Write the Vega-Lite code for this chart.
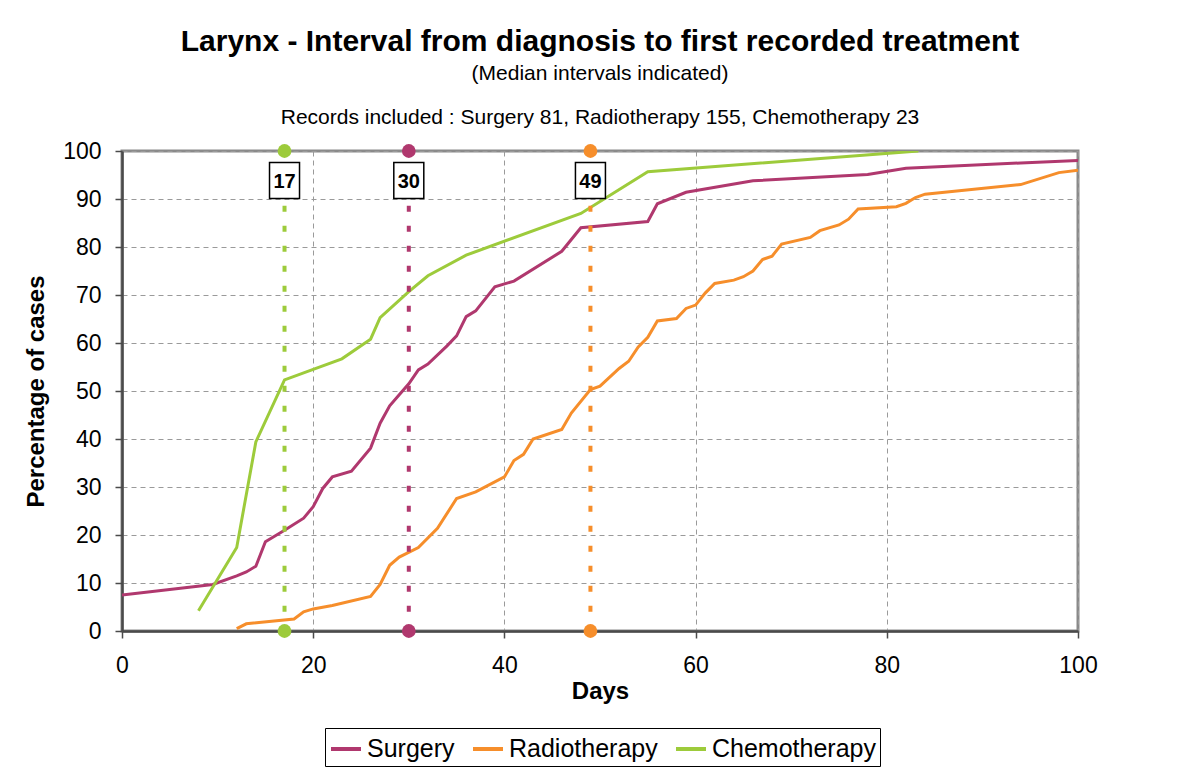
{
  "$schema": "https://vega.github.io/schema/vega-lite/v6.json",
  "width": 956,
  "height": 480,
  "autosize": {"type": "none"},
  "padding": {"left": 122, "top": 151, "right": 102, "bottom": 143},
  "background": "white",
  "title": {
    "text": "Larynx - Interval from diagnosis to first recorded treatment",
    "subtitle": ["(Median intervals indicated)", "Records included : Surgery 81, Radiotherapy 155, Chemotherapy 23"],
    "anchor": "middle",
    "font": "Liberation Sans",
    "fontSize": 30,
    "fontWeight": "bold",
    "color": "black",
    "subtitleFont": "Liberation Sans",
    "subtitleFontSize": 21,
    "subtitleColor": "black",
    "subtitleLineHeight": 44,
    "subtitlePadding": 6,
    "offset": 12
  },
  "datasets": {
    "medians": [
      {"series": "Surgery", "day": 30, "label": "30"},
      {"series": "Radiotherapy", "day": 49, "label": "49"},
      {"series": "Chemotherapy", "day": 17, "label": "17"}
    ]
  },
  "data": {
    "values": [
      {"series": "Surgery", "day": 0, "pct": 7.5},
      {"series": "Surgery", "day": 9.5, "pct": 9.7},
      {"series": "Surgery", "day": 12, "pct": 11.5},
      {"series": "Surgery", "day": 13, "pct": 12.3},
      {"series": "Surgery", "day": 14, "pct": 13.5},
      {"series": "Surgery", "day": 15, "pct": 18.6},
      {"series": "Surgery", "day": 17, "pct": 21},
      {"series": "Surgery", "day": 19, "pct": 23.5},
      {"series": "Surgery", "day": 20, "pct": 25.9},
      {"series": "Surgery", "day": 21, "pct": 29.7},
      {"series": "Surgery", "day": 22, "pct": 32.1},
      {"series": "Surgery", "day": 24, "pct": 33.3},
      {"series": "Surgery", "day": 26, "pct": 38.1},
      {"series": "Surgery", "day": 27, "pct": 43.3},
      {"series": "Surgery", "day": 28, "pct": 46.9},
      {"series": "Surgery", "day": 29, "pct": 49.2},
      {"series": "Surgery", "day": 30, "pct": 51.5},
      {"series": "Surgery", "day": 31, "pct": 54.4},
      {"series": "Surgery", "day": 32, "pct": 55.6},
      {"series": "Surgery", "day": 34, "pct": 59.4},
      {"series": "Surgery", "day": 35, "pct": 61.5},
      {"series": "Surgery", "day": 36, "pct": 65.5},
      {"series": "Surgery", "day": 37, "pct": 66.7},
      {"series": "Surgery", "day": 39, "pct": 71.7},
      {"series": "Surgery", "day": 41, "pct": 72.9},
      {"series": "Surgery", "day": 46, "pct": 79.1},
      {"series": "Surgery", "day": 48, "pct": 84.0},
      {"series": "Surgery", "day": 55, "pct": 85.3},
      {"series": "Surgery", "day": 56, "pct": 89.0},
      {"series": "Surgery", "day": 59, "pct": 91.4},
      {"series": "Surgery", "day": 66, "pct": 93.8},
      {"series": "Surgery", "day": 78, "pct": 95.1},
      {"series": "Surgery", "day": 82, "pct": 96.4},
      {"series": "Surgery", "day": 94, "pct": 97.5},
      {"series": "Surgery", "day": 100, "pct": 98.0},
      {"series": "Radiotherapy", "day": 12, "pct": 0.5},
      {"series": "Radiotherapy", "day": 13, "pct": 1.5},
      {"series": "Radiotherapy", "day": 18, "pct": 2.5},
      {"series": "Radiotherapy", "day": 19, "pct": 4.0},
      {"series": "Radiotherapy", "day": 20, "pct": 4.6},
      {"series": "Radiotherapy", "day": 22, "pct": 5.3},
      {"series": "Radiotherapy", "day": 26, "pct": 7.2},
      {"series": "Radiotherapy", "day": 27, "pct": 9.7},
      {"series": "Radiotherapy", "day": 28, "pct": 13.7},
      {"series": "Radiotherapy", "day": 29, "pct": 15.4},
      {"series": "Radiotherapy", "day": 31, "pct": 17.4},
      {"series": "Radiotherapy", "day": 33, "pct": 21.4},
      {"series": "Radiotherapy", "day": 35, "pct": 27.6},
      {"series": "Radiotherapy", "day": 37, "pct": 29.0},
      {"series": "Radiotherapy", "day": 40, "pct": 32.1},
      {"series": "Radiotherapy", "day": 41, "pct": 35.5},
      {"series": "Radiotherapy", "day": 42, "pct": 36.8},
      {"series": "Radiotherapy", "day": 43, "pct": 40.0},
      {"series": "Radiotherapy", "day": 46, "pct": 42.0},
      {"series": "Radiotherapy", "day": 47, "pct": 45.4},
      {"series": "Radiotherapy", "day": 49, "pct": 50.3},
      {"series": "Radiotherapy", "day": 50, "pct": 51.0},
      {"series": "Radiotherapy", "day": 52, "pct": 54.7},
      {"series": "Radiotherapy", "day": 53, "pct": 56.2},
      {"series": "Radiotherapy", "day": 54, "pct": 59.2},
      {"series": "Radiotherapy", "day": 55, "pct": 61.2},
      {"series": "Radiotherapy", "day": 56, "pct": 64.6},
      {"series": "Radiotherapy", "day": 58, "pct": 65.1},
      {"series": "Radiotherapy", "day": 59, "pct": 67.2},
      {"series": "Radiotherapy", "day": 60, "pct": 67.9},
      {"series": "Radiotherapy", "day": 61, "pct": 70.4},
      {"series": "Radiotherapy", "day": 62, "pct": 72.4},
      {"series": "Radiotherapy", "day": 64, "pct": 73.1},
      {"series": "Radiotherapy", "day": 65, "pct": 73.8},
      {"series": "Radiotherapy", "day": 66, "pct": 75.0},
      {"series": "Radiotherapy", "day": 67, "pct": 77.4},
      {"series": "Radiotherapy", "day": 68, "pct": 78.1},
      {"series": "Radiotherapy", "day": 69, "pct": 80.6},
      {"series": "Radiotherapy", "day": 72, "pct": 82.0},
      {"series": "Radiotherapy", "day": 73, "pct": 83.4},
      {"series": "Radiotherapy", "day": 75, "pct": 84.6},
      {"series": "Radiotherapy", "day": 76, "pct": 85.8},
      {"series": "Radiotherapy", "day": 77, "pct": 87.9},
      {"series": "Radiotherapy", "day": 81, "pct": 88.4},
      {"series": "Radiotherapy", "day": 82, "pct": 89.1},
      {"series": "Radiotherapy", "day": 83, "pct": 90.3},
      {"series": "Radiotherapy", "day": 84, "pct": 91.0},
      {"series": "Radiotherapy", "day": 94, "pct": 93.0},
      {"series": "Radiotherapy", "day": 98, "pct": 95.5},
      {"series": "Radiotherapy", "day": 100, "pct": 96.0},
      {"series": "Chemotherapy", "day": 8, "pct": 4.2},
      {"series": "Chemotherapy", "day": 12, "pct": 17.4},
      {"series": "Chemotherapy", "day": 14, "pct": 39.4},
      {"series": "Chemotherapy", "day": 17, "pct": 52.3},
      {"series": "Chemotherapy", "day": 20, "pct": 54.5},
      {"series": "Chemotherapy", "day": 23, "pct": 56.7},
      {"series": "Chemotherapy", "day": 26, "pct": 60.8},
      {"series": "Chemotherapy", "day": 27, "pct": 65.3},
      {"series": "Chemotherapy", "day": 30, "pct": 70.7},
      {"series": "Chemotherapy", "day": 32, "pct": 74.0},
      {"series": "Chemotherapy", "day": 36, "pct": 78.3},
      {"series": "Chemotherapy", "day": 48, "pct": 87.0},
      {"series": "Chemotherapy", "day": 55, "pct": 95.7},
      {"series": "Chemotherapy", "day": 83.3, "pct": 100}
    ]
  },
  "layer": [
    {
      "mark": {"type": "line", "strokeWidth": 3, "clip": true},
      "encoding": {
        "x": {
          "field": "day", "type": "quantitative",
          "scale": {"domain": [0, 100], "nice": false},
          "axis": {"values": [0, 20, 40, 60, 80, 100], "title": "Days"}
        },
        "y": {
          "field": "pct", "type": "quantitative",
          "scale": {"domain": [0, 100], "nice": false},
          "axis": {"values": [0, 10, 20, 30, 40, 50, 60, 70, 80, 90, 100], "title": "Percentage of cases", "orient": "left"}
        },
        "color": {
          "field": "series", "type": "nominal",
          "scale": {"domain": ["Surgery", "Radiotherapy", "Chemotherapy"], "range": ["#B0386E", "#F68E2B", "#9DCB3B"]},
          "legend": {
            "title": null,
            "orient": "none",
            "legendX": 203,
            "legendY": 577,
            "direction": "horizontal",
            "symbolType": "stroke",
            "symbolSize": 900,
            "symbolStrokeWidth": 4,
            "labelFont": "Liberation Sans",
            "labelFontSize": 25,
            "labelColor": "black",
            "labelLimit": 0,
            "labelOffset": 4,
            "columnPadding": 10,
            "strokeColor": "black",
            "padding": 4
          }
        },
        "order": {"field": "day", "type": "quantitative"}
      }
    },
    {
      "data": {"name": "medians"},
      "mark": {"type": "rule", "strokeWidth": 4, "strokeDash": [6, 14]},
      "encoding": {
        "x": {"field": "day", "type": "quantitative"},
        "y": {"datum": 4},
        "y2": {"datum": 89},
        "stroke": {
          "field": "series", "type": "nominal",
          "scale": {"domain": ["Surgery", "Radiotherapy", "Chemotherapy"], "range": ["#B0386E", "#F68E2B", "#9DCB3B"]},
          "legend": null
        }
      }
    },
    {
      "data": {"name": "medians"},
      "mark": {"type": "point", "shape": "circle", "filled": true, "size": 190, "opacity": 1},
      "encoding": {
        "x": {"field": "day", "type": "quantitative"},
        "y": {"datum": 100},
        "fill": {
          "field": "series", "type": "nominal",
          "scale": {"domain": ["Surgery", "Radiotherapy", "Chemotherapy"], "range": ["#B0386E", "#F68E2B", "#9DCB3B"]},
          "legend": null
        }
      }
    },
    {
      "data": {"name": "medians"},
      "mark": {"type": "point", "shape": "circle", "filled": true, "size": 190, "opacity": 1},
      "encoding": {
        "x": {"field": "day", "type": "quantitative"},
        "y": {"datum": 0},
        "fill": {
          "field": "series", "type": "nominal",
          "scale": {"domain": ["Surgery", "Radiotherapy", "Chemotherapy"], "range": ["#B0386E", "#F68E2B", "#9DCB3B"]},
          "legend": null
        }
      }
    },
    {
      "data": {"name": "medians"},
      "mark": {"type": "point", "shape": "M-1,-1.2H1V1.2H-1Z", "size": 900, "filled": false, "fill": "white", "fillOpacity": 1, "stroke": "black", "strokeWidth": 1.5, "opacity": 1},
      "encoding": {
        "x": {"field": "day", "type": "quantitative"},
        "y": {"datum": 93.85}
      }
    },
    {
      "data": {"name": "medians"},
      "mark": {"type": "text", "font": "Liberation Sans", "fontSize": 20, "fontWeight": "bold", "color": "black", "baseline": "middle", "align": "center", "dy": 1},
      "encoding": {
        "x": {"field": "day", "type": "quantitative"},
        "y": {"datum": 93.85},
        "text": {"field": "label"}
      }
    }
  ],
  "config": {
    "view": {"stroke": "#8a8a8a", "strokeWidth": 3},
    "axis": {
      "labelFont": "Liberation Sans",
      "labelFontSize": 23,
      "labelColor": "black",
      "labelFlush": false,
      "titleFont": "Liberation Sans",
      "titleFontSize": 24,
      "titleFontWeight": "bold",
      "titleColor": "black",
      "domainColor": "#4a4a4a",
      "domainWidth": 2.5,
      "tickColor": "#4a4a4a",
      "tickWidth": 1.5,
      "tickSize": 7,
      "gridColor": "#9a9a9a",
      "gridDash": [5, 4],
      "gridWidth": 1
    },
    "axisX": {"labelPadding": 16, "titlePadding": 2},
    "axisY": {"labelPadding": 14, "titlePadding": 14}
  }
}
